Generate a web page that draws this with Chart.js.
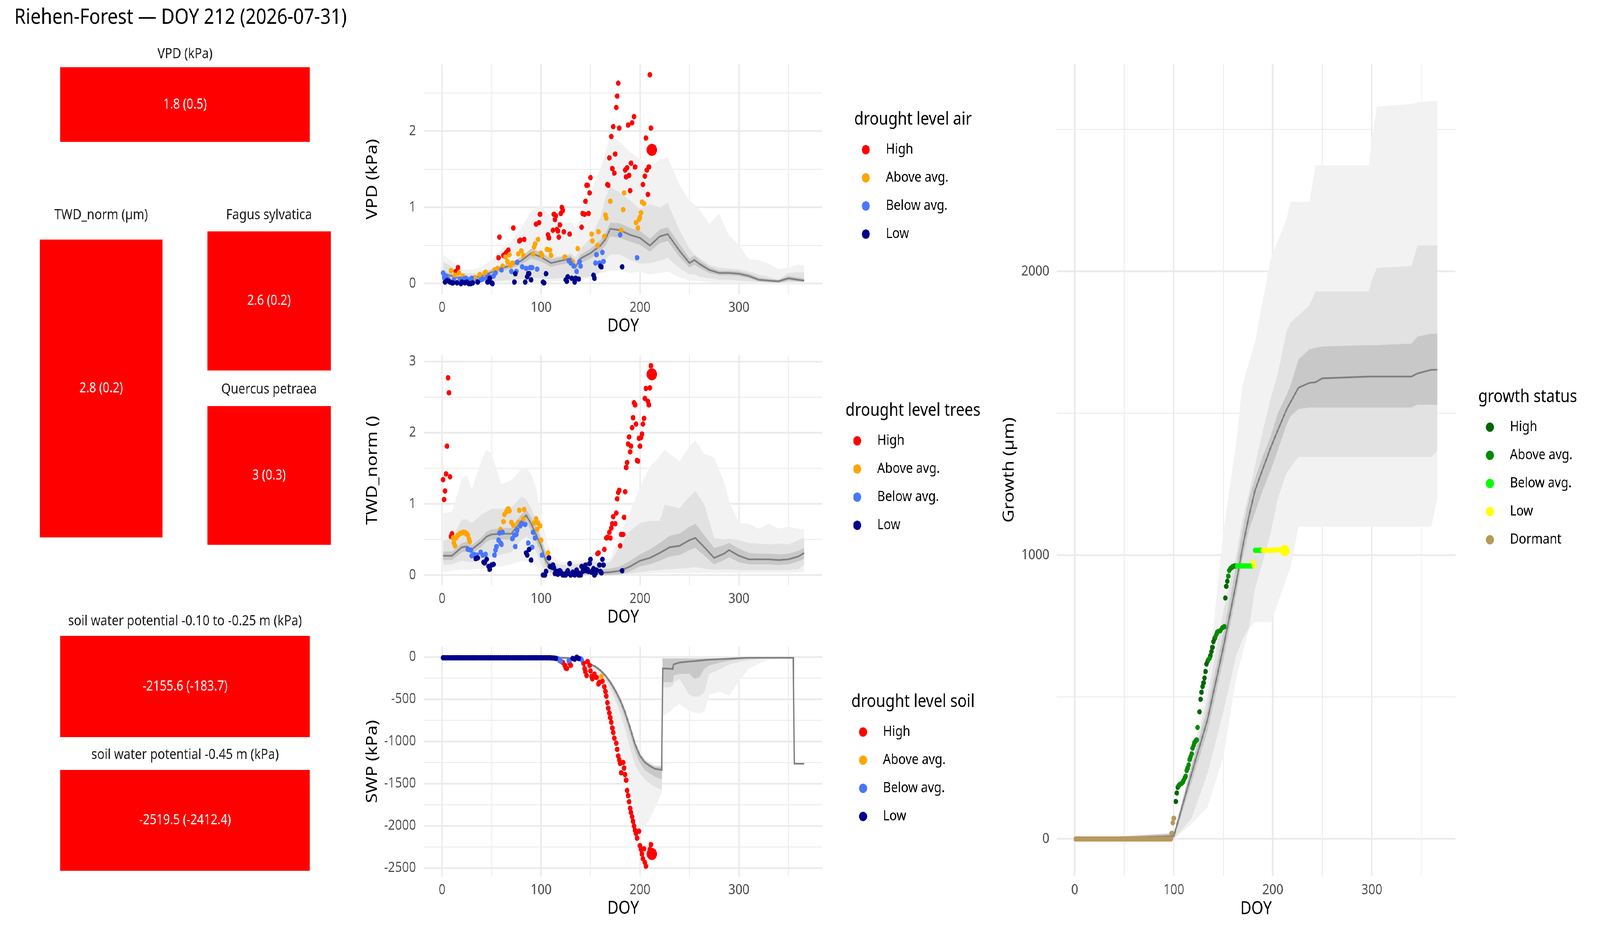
<!DOCTYPE html>
<html><head><meta charset="utf-8">
<script src="https://cdn.jsdelivr.net/npm/chart.js@4.4.1/dist/chart.umd.min.js"></script>
<style>
html,body{margin:0;padding:0;background:#fff;width:100%;height:100%;overflow:hidden;position:relative}
canvas{position:absolute;display:block}
</style></head><body>
<script>
// ================= DATA =================
const plotTitle = 'Riehen-Forest — DOY 212 (2026-07-31)';
const levelNames = ['High', 'Above avg.', 'Below avg.', 'Low'];
const levelColors = ['#FF0000', '#FFA500', '#4876FF', '#00008B'];
const growthNames = ['High', 'Above avg.', 'Below avg.', 'Low', 'Dormant'];
const growthColors = ['#006400', '#008B00', '#00FF00', '#FFFF00', '#B8995B'];

const tileNames = ['VPD (kPa)', 'TWD_norm (µm)', 'Fagus sylvatica', 'Quercus petraea',
  'soil water potential -0.10 to -0.25 m (kPa)', 'soil water potential -0.45 m (kPa)'];
const tileNow = [1.8, 2.8, 2.6, 3, -2155.6, -2519.5];
const tileRef = [0.5, 0.2, 0.2, 0.3, -183.7, -2412.4];
const tileLevel = ['High', 'High', 'High', 'High', 'High', 'High'];

const doyTicks = [0, 50, 100, 150, 200, 250, 300, 350];
const doyTickLabels = ['0', '', '100', '', '200', '', '300', ''];
const vpdTicks = [0, 0.5, 1, 1.5, 2, 2.5];
const vpdTickLabels = ['0', '', '1', '', '2', ''];
const twdTicks = [0, 0.5, 1, 1.5, 2, 2.5, 3];
const twdTickLabels = ['0', '', '1', '', '2', '', '3'];
const swpTicks = [-2500, -2250, -2000, -1750, -1500, -1250, -1000, -750, -500, -250, 0];
const swpTickLabels = ['-2500', '', '-2000', '', '-1500', '', '-1000', '', '-500', '', '0'];
const growthTicks = [0, 500, 1000, 1500, 2000, 2500];
const growthTickLabels = ['0', '', '1000', '', '2000', ''];

// ---- VPD (kPa) ----
const vpdHigh = [[14,0.16],[16,0.21],[57,0.34],[58,0.61],[62,0.37],[63,0.38],[65,0.41],[67,0.44],[72,0.73],[78,0.56],[79,0.57],[83,0.58],[95,0.78],[98,0.80],[99,0.91],[107,0.64],[108,0.60],[112,0.70],[113,0.91],[114,0.84],[115,0.89],[116,0.71],[117,0.69],[118,0.61],[119,0.77],[120,0.92],[121,1.0],[122,0.96],[123,0.68],[129,0.65],[141,0.74],[142,0.92],[144,0.91],[145,1.08],[146,1.29],[147,1.29],[148,0.92],[149,1.19],[150,1.39],[167,1.30],[168,1.29],[169,1.65],[171,1.93],[172,1.51],[173,2.06],[174,1.45],[175,1.70],[176,2.31],[177,2.46],[178,2.63],[179,2.04],[185,1.49],[186,1.40],[187,1.52],[188,2.08],[189,1.42],[190,1.22],[191,1.58],[192,2.11],[194,2.19],[195,1.53],[203,1.30],[205,1.41],[206,1.91],[207,1.49],[208,1.17],[209,1.53],[210,2.74],[211,2.04]];
const vpdAbove = [[9,0.17],[13,0.11],[17,0.14],[21,0.10],[33,0.08],[38,0.12],[43,0.14],[44,0.15],[53,0.18],[56,0.20],[61,0.23],[64,0.35],[66,0.29],[68,0.38],[69,0.24],[71,0.27],[77,0.39],[80,0.43],[82,0.37],[92,0.39],[93,0.48],[94,0.52],[97,0.58],[100,0.40],[101,0.37],[106,0.45],[109,0.44],[110,0.37],[124,0.35],[132,0.29],[137,0.46],[151,0.65],[152,0.56],[157,0.50],[158,0.68],[164,0.62],[165,0.90],[166,0.86],[170,1.08],[181,0.70],[183,0.97],[184,1.19],[196,0.80],[198,0.73],[199,0.84],[200,0.87],[201,0.93],[202,1.07],[204,1.05]];
const vpdBelow = [[1,0.14],[2,0.08],[4,0.10],[6,0.06],[12,0.05],[18,0.06],[22,0.06],[24,0.07],[26,0.05],[28,0.04],[30,0.07],[35,0.03],[39,0.05],[41,0.06],[45,0.08],[47,0.10],[49,0.08],[52,0.10],[54,0.14],[60,0.18],[70,0.16],[75,0.16],[76,0.28],[81,0.22],[85,0.20],[89,0.21],[91,0.21],[96,0.19],[128,0.30],[130,0.27],[133,0.23],[136,0.16],[139,0.29],[140,0.23],[155,0.27],[156,0.38],[159,0.27],[162,0.41],[163,0.29],[180,0.64],[197,0.34]];
const vpdLow = [[3,0.02],[5,0.04],[7,0.03],[8,0.02],[10,0.01],[11,0.01],[15,0.01],[19,0.0],[20,0.02],[23,0.01],[25,0.02],[27,0.0],[29,0.0],[31,0.01],[36,0.02],[46,0.02],[48,0.07],[50,0.01],[51,0.0],[73,0.02],[74,0.13],[84,0.02],[86,0.09],[87,0.13],[88,0.13],[90,0.05],[102,0.02],[103,0.01],[105,0.13],[125,0.05],[126,0.03],[127,0.09],[131,0.07],[134,0.02],[135,0.07],[138,0.06],[153,0.11],[154,0.07],[160,0.23],[161,0.22],[182,0.22]];
const vpdToday = [[212,1.755]];
const vpdTodayLevel = 'High';
const vpdBandDoy = [1,10,20,30,40,50,60,70,80,90,100,110,120,130,135,140,150,160,165,170,180,190,200,210,220,228,240,250,255,260,270,280,290,300,310,320,330,340,350,360,366];
const vpdMedian = [0.13,0.10,0.06,0.07,0.10,0.15,0.20,0.24,0.30,0.40,0.35,0.27,0.30,0.33,0.22,0.33,0.40,0.50,0.58,0.72,0.70,0.64,0.60,0.50,0.62,0.65,0.43,0.27,0.31,0.26,0.18,0.14,0.14,0.13,0.10,0.05,0.04,0.03,0.07,0.05,0.04];
const vpdInnerHi = [0.16,0.13,0.09,0.10,0.13,0.19,0.24,0.28,0.35,0.46,0.41,0.32,0.35,0.37,0.27,0.38,0.46,0.57,0.66,0.80,0.79,0.73,0.69,0.59,0.71,0.74,0.52,0.33,0.37,0.31,0.22,0.17,0.17,0.16,0.13,0.08,0.06,0.05,0.10,0.08,0.07];
const vpdInnerLo = [0.10,0.07,0.04,0.05,0.07,0.11,0.16,0.20,0.25,0.33,0.29,0.22,0.25,0.27,0.17,0.27,0.33,0.42,0.50,0.62,0.60,0.55,0.51,0.42,0.53,0.56,0.35,0.21,0.25,0.21,0.14,0.11,0.11,0.10,0.07,0.03,0.02,0.01,0.04,0.03,0.02];
const vpdMidHi = [0.29,0.22,0.14,0.14,0.14,0.19,0.23,0.27,0.36,0.43,0.42,0.35,0.36,0.40,0.35,0.46,0.60,0.87,1.12,1.27,1.19,1.09,0.98,1.04,1.00,1.06,0.70,0.46,0.38,0.34,0.25,0.21,0.20,0.19,0.16,0.12,0.09,0.05,0.14,0.15,0.15];
const vpdMidLo = [0.05,0.04,0.02,0.02,0.02,0.03,0.04,0.05,0.06,0.07,0.07,0.06,0.07,0.07,0.06,0.08,0.09,0.15,0.31,0.38,0.38,0.31,0.26,0.27,0.30,0.34,0.20,0.12,0.12,0.09,0.07,0.05,0.05,0.04,0.03,0.02,0.01,0.01,0.02,0.02,0.02];
const vpdOuterHi = [0.38,0.29,0.19,0.18,0.22,0.31,0.46,0.56,0.73,0.95,1.04,0.85,0.79,0.81,0.73,0.85,1.19,1.51,1.73,1.95,1.85,1.73,1.63,1.53,1.63,1.66,1.29,1.09,1.04,0.97,0.78,0.92,0.63,0.51,0.32,0.31,0.26,0.19,0.21,0.25,0.24];
const vpdOuterLo = [0.03,0.02,0.01,0.0,0.0,0.01,0.02,0.02,0.03,0.03,0.03,0.03,0.03,0.03,0.03,0.04,0.08,0.14,0.15,0.17,0.17,0.14,0.16,0.12,0.14,0.16,0.08,0.04,0.04,0.03,0.02,0.01,0.01,0.01,0.01,0.0,0.0,0.0,0.0,0.0,0.0];

// ---- TWD_norm ----
const twdHigh = [[1,1.34],[2,1.06],[3,1.18],[4,1.42],[5,1.81],[6,2.77],[7,2.56],[8,1.38],[9,0.54],[10,0.58],[157,0.30],[158,0.31],[164,0.36],[166,0.52],[167,0.53],[169,0.60],[170,0.52],[171,0.66],[172,0.72],[173,0.82],[175,0.72],[176,0.87],[177,1.07],[178,1.16],[179,1.19],[180,0.41],[181,0.57],[183,0.57],[184,0.81],[185,1.17],[186,1.51],[187,1.58],[188,1.84],[189,1.94],[190,1.73],[191,1.81],[192,2.07],[193,2.21],[194,2.42],[195,2.39],[196,2.12],[197,1.61],[198,1.60],[199,1.92],[200,1.81],[201,1.93],[202,1.98],[203,2.12],[204,2.20],[205,2.48],[206,2.62],[208,2.44],[209,2.39],[210,2.63],[211,2.94]];
const twdAbove = [[11,0.52],[12,0.45],[13,0.41],[14,0.52],[15,0.54],[16,0.56],[17,0.57],[18,0.58],[19,0.59],[20,0.59],[21,0.60],[22,0.60],[23,0.60],[24,0.58],[25,0.58],[26,0.56],[27,0.51],[28,0.47],[59,0.64],[62,0.75],[63,0.85],[65,0.89],[66,0.92],[67,0.93],[68,0.90],[70,0.74],[72,0.70],[77,0.74],[78,0.91],[82,0.79],[83,0.92],[93,0.73],[95,0.79],[96,0.64],[97,0.73],[99,0.69],[100,0.49],[107,0.31]];
const twdBelow = [[26,0.36],[29,0.35],[30,0.27],[32,0.29],[35,0.28],[39,0.32],[41,0.28],[44,0.29],[53,0.28],[54,0.35],[55,0.40],[57,0.49],[58,0.59],[59,0.45],[60,0.43],[61,0.60],[71,0.51],[73,0.56],[74,0.40],[75,0.57],[76,0.63],[79,0.69],[80,0.72],[81,0.72],[84,0.71],[87,0.45],[91,0.39],[92,0.60],[94,0.52],[101,0.28]];
const twdLow = [[34,0.23],[36,0.24],[42,0.18],[43,0.17],[45,0.22],[47,0.12],[48,0.08],[50,0.14],[52,0.15],[85,0.31],[86,0.28],[88,0.36],[90,0.21],[102,0.0],[104,0.0],[105,0.05],[108,0.24],[109,0.12],[111,0.11],[112,0.14],[113,0.10],[114,0.02],[115,0.04],[116,0.05],[117,0.01],[118,0.03],[119,0.06],[120,0.04],[121,0.02],[122,0.0],[123,0.01],[124,0.0],[125,0.0],[126,0.03],[127,0.06],[128,0.02],[129,0.16],[130,0.0],[131,0.01],[132,0.04],[133,0.03],[134,0.0],[135,0.02],[136,0.07],[137,0.04],[138,0.0],[139,0.01],[140,0.0],[141,0.12],[142,0.05],[143,0.08],[144,0.10],[145,0.14],[146,0.06],[147,0.08],[148,0.05],[149,0.16],[150,0.22],[151,0.04],[152,0.06],[153,0.09],[154,0.0],[155,0.02],[156,0.07],[159,0.14],[160,0.05],[161,0.03],[162,0.22],[163,0.14],[182,0.06]];
const twdToday = [[212,2.82]];
const twdTodayLevel = 'High';
const twdBandDoy = [1,10,20,25,30,40,45,50,60,70,80,85,90,95,100,105,110,120,130,140,150,160,170,180,190,200,210,220,225,230,240,250,256,265,275,285,290,300,310,320,330,340,350,360,366];
const twdMedian = [0.27,0.27,0.39,0.40,0.36,0.47,0.54,0.57,0.58,0.58,0.76,0.84,0.72,0.57,0.41,0.20,0.10,0.03,0.02,0.03,0.04,0.03,0.04,0.06,0.12,0.20,0.24,0.31,0.35,0.39,0.41,0.49,0.52,0.39,0.24,0.30,0.35,0.27,0.22,0.22,0.22,0.21,0.22,0.26,0.31];
const twdInnerHi = [0.33,0.33,0.45,0.47,0.42,0.53,0.61,0.64,0.66,0.66,0.85,0.92,0.82,0.68,0.51,0.29,0.17,0.08,0.06,0.07,0.09,0.08,0.09,0.12,0.20,0.29,0.36,0.45,0.50,0.55,0.58,0.68,0.72,0.56,0.38,0.42,0.45,0.37,0.31,0.30,0.30,0.29,0.30,0.34,0.38];
const twdInnerLo = [0.21,0.21,0.32,0.33,0.30,0.40,0.47,0.50,0.50,0.50,0.67,0.75,0.62,0.47,0.31,0.12,0.04,0.0,0.0,0.0,0.0,0.0,0.0,0.01,0.05,0.12,0.15,0.20,0.23,0.26,0.28,0.35,0.38,0.27,0.15,0.21,0.25,0.18,0.15,0.15,0.15,0.14,0.15,0.19,0.23];
const twdMidHi = [0.48,0.52,0.78,0.78,0.73,0.85,0.89,0.93,0.93,0.95,1.10,1.06,0.94,0.78,0.54,0.33,0.20,0.14,0.15,0.16,0.20,0.18,0.18,0.41,0.62,0.73,0.76,0.76,0.99,0.97,0.94,1.10,1.18,0.99,0.52,0.50,0.51,0.49,0.45,0.44,0.43,0.44,0.43,0.49,0.52];
const twdMidLo = [0.14,0.15,0.20,0.19,0.18,0.22,0.24,0.26,0.29,0.32,0.49,0.54,0.49,0.33,0.15,0.04,0.02,0.0,0.0,0.0,0.0,0.0,0.0,0.0,0.02,0.04,0.06,0.07,0.08,0.08,0.09,0.10,0.11,0.09,0.07,0.08,0.08,0.07,0.07,0.07,0.07,0.07,0.07,0.08,0.15];
const twdOuterHi = [0.87,0.89,1.36,1.40,1.20,1.62,1.76,1.70,1.28,1.33,1.49,1.52,1.41,1.23,0.83,0.52,0.29,0.18,0.18,0.20,0.23,0.22,0.23,0.57,0.89,1.23,1.52,1.67,1.76,1.70,1.60,1.81,1.89,1.70,1.65,1.31,1.04,0.73,0.72,0.65,0.72,0.65,0.68,0.65,0.64];
const twdOuterLo = [0.04,0.06,0.08,0.08,0.08,0.09,0.10,0.11,0.12,0.15,0.20,0.19,0.18,0.12,0.07,0.02,0.0,0.0,0.0,0.0,0.0,0.0,0.0,0.0,0.0,0.02,0.02,0.03,0.03,0.03,0.03,0.03,0.03,0.03,0.03,0.03,0.03,0.03,0.03,0.03,0.03,0.03,0.03,0.04,0.04];

// ---- SWP (kPa) ----
const swpHigh = [[122,-66],[124,-100],[125,-133],[126,-137],[129,-77],[130,-100],[143,-77],[144,-138],[145,-177],[146,-221],[147,-55],[149,-100],[150,-166],[151,-232],[152,-260],[154,-203],[156,-243],[158,-321],[159,-299],[162,-288],[164,-354],[165,-409],[166,-465],[167,-542],[168,-608],[169,-664],[170,-719],[171,-774],[172,-841],[173,-896],[174,-962],[176,-1022],[177,-1095],[178,-1173],[179,-1217],[180,-1261],[181,-1372],[183,-1250],[184,-1316],[185,-1394],[186,-1460],[187,-1582],[188,-1642],[189,-1715],[190,-1792],[191,-1843],[192,-1892],[193,-1947],[194,-2002],[195,-2053],[196,-2091],[197,-2146],[199,-2064],[200,-2235],[201,-2279],[202,-2334],[203,-2389],[204,-2272],[205,-2434],[206,-2478],[210,-2279],[211,-2223]];
const swpAbove = [[161,-232]];
const swpBelow = [[117,-22],[118,-30],[119,-44],[120,-52],[128,-44],[140,-22],[141,-33]];
const swpLow = [[1,-10],[3,-10],[5,-10],[7,-10],[9,-10],[11,-10],[13,-10],[15,-10],[17,-10],[19,-10],[21,-10],[23,-10],[25,-10],[27,-10],[29,-10],[31,-10],[33,-10],[35,-10],[37,-10],[39,-10],[41,-10],[43,-10],[45,-10],[47,-10],[49,-10],[51,-10],[53,-10],[55,-10],[57,-10],[59,-10],[61,-10],[63,-10],[65,-10],[67,-10],[69,-10],[71,-10],[73,-10],[75,-10],[77,-10],[79,-10],[81,-10],[83,-10],[85,-10],[87,-10],[89,-10],[91,-10],[93,-10],[95,-10],[97,-10],[99,-10],[101,-10],[103,-10],[105,-10],[107,-10],[109,-10],[111,-12],[113,-14],[115,-17],[132,-18],[134,-27],[136,-4],[138,-18]];
const swpToday = [[212,-2334]];
const swpTodayLevel = 'High';
const swpBandDoy = [1,100,110,120,130,140,150,155,160,165,170,175,180,185,190,195,200,205,210,215,222,223,230,233,234,240,250,255,260,265,270,280,290,300,310,320,330,340,355,356,366];
const swpMedian = [-3,-4,-5,-10,-15,-44,-88,-115,-160,-220,-299,-398,-510,-660,-840,-1035,-1173,-1250,-1292,-1325,-1338,-137,-140,-144,-88,-66,-55,-50,-44,-38,-33,-27,-22,-15,-11,-11,-11,-11,-11,-1265,-1265];
const swpInnerHi = [-2,-3,-4,-8,-12,-38,-80,-105,-150,-205,-280,-375,-490,-630,-810,-1000,-1145,-1225,-1270,-1300,-1305,-20,-20,-20,-20,-20,-20,-20,-20,-20,-20,-18,-16,-14,-11,-11,-11,-11,-11,null,null];
const swpInnerLo = [-4,-5,-6,-12,-18,-50,-98,-128,-178,-245,-330,-440,-570,-730,-920,-1120,-1260,-1340,-1380,-1420,-1450,-300,-300,-300,-220,-200,-200,-260,-240,-140,-100,-70,-45,-30,-20,-15,-12,-11,-11,null,null];
const swpMidHi = [-1,-2,-3,-6,-10,-35,-76,-100,-145,-200,-272,-365,-480,-620,-800,-990,-1130,-1215,-1260,-1290,-1295,-17,-17,-17,-17,-17,-17,-17,-17,-17,-17,-16,-15,-13,-11,-11,-11,-11,-11,null,null];
const swpMidLo = [-5,-6,-8,-15,-22,-60,-110,-145,-200,-280,-380,-510,-670,-860,-1080,-1280,-1380,-1450,-1500,-1540,-1575,-360,-360,-340,-300,-260,-450,-470,-470,-420,-200,-150,-90,-60,-40,-25,-15,-11,-11,null,null];
const swpOuterHi = [0,-1,-2,-5,-8,-30,-72,-95,-140,-195,-265,-355,-470,-610,-790,-980,-1115,-1205,-1250,-1280,-1285,-15,-15,-15,-15,-15,-15,-15,-15,-15,-15,-14,-13,-12,-11,-11,-11,-11,-11,null,null];
const swpOuterLo = [-6,-8,-10,-20,-28,-70,-125,-170,-250,-420,-620,-800,-1030,-1230,-1500,-1780,-2035,-2000,-1920,-1790,-1610,-700,-650,-620,-600,-560,-640,-660,-670,-650,-450,-410,-460,-290,-140,-80,-30,-15,-11,null,null];

// ---- Growth (µm) ----
const growthHigh = [[102,132],[103,162],[104,182],[126,448],[127,492],[128,517],[129,537],[130,550],[131,567],[132,590],[133,616],[134,626],[137,646],[138,660],[139,675],[140,695],[141,705],[152,849],[153,890],[154,908]];
const growthAbove = [[105,188],[106,192],[107,194],[108,196],[109,200],[110,207],[111,215],[112,221],[113,241],[114,250],[115,261],[116,280],[117,290],[118,300],[119,320],[120,330],[121,340],[122,345],[123,349],[124,393],[135,632],[136,636],[142,712],[143,721],[144,729],[145,731],[147,734],[149,744],[151,748],[155,926],[156,946],[157,952],[158,955],[159,958],[160,960],[161,962],[162,962],[163,962]];
const growthBelow = [[164,962],[165,962],[166,962],[167,962],[168,962],[169,962],[170,962],[171,962],[172,962],[173,962],[174,962],[175,962],[176,962],[177,962],[178,962],[179,962],[182,1017],[183,1017],[184,1017],[185,1017],[186,1017],[187,1017],[188,1017],[189,1017]];
const growthLow = [[180,975],[181,962],[190,1017],[191,1017],[192,1017],[193,1017],[194,1017],[195,1017],[196,1017],[197,1017],[198,1017],[199,1017],[200,1017],[201,1018],[202,1018],[203,1018],[204,1018],[205,1018],[206,1019],[207,1019],[208,1019],[209,1020],[210,1020],[211,1020]];
const growthDormant = [[1,0],[3,0],[5,0],[7,0],[9,0],[11,0],[13,0],[15,0],[17,0],[19,0],[21,0],[23,0],[25,0],[27,0],[29,0],[31,0],[33,0],[35,0],[37,0],[39,0],[41,0],[43,0],[45,0],[47,0],[49,0],[51,0],[53,0],[55,0],[57,0],[59,0],[61,0],[63,0],[65,0],[67,0],[69,0],[71,0],[73,0],[75,0],[77,0],[79,0],[81,0],[83,0],[85,0],[87,0],[89,0],[91,0],[93,0],[95,0],[97,0],[98,20],[99,57],[100,73]];
const growthToday = [[212,1016]];
const growthTodayLevel = 'Low';
const growthBandDoy = [1,100,118,134,150,163,169,176,182,190,198,205,214,218,226,237,243,250,297,300,305,340,346,360,366];
const growthMedian = [0,10,231,420,675,902,1020,1139,1228,1305,1380,1440,1514,1540,1590,1607,1609,1623,1629,1629,1629,1629,1640,1653,1653];
const growthInnerLo = [0,0,200,380,630,860,980,1090,1150,1230,1300,1370,1460,1490,1515,1520,1520,1520,1520,1520,1520,1520,1530,1530,1530];
const growthInnerHi = [0,20,260,460,725,960,1080,1200,1270,1350,1420,1500,1565,1600,1690,1725,1730,1735,1740,1740,1740,1745,1770,1780,1780];
const growthMidLo = [0,0,73,231,448,646,700,744,882,980,1080,1200,1290,1310,1346,1346,1346,1346,1346,1346,1346,1346,1346,1346,1366];
const growthMidHi = [0,14,260,500,800,1000,1120,1220,1317,1440,1554,1640,1790,1820,1845,1880,1929,1929,1929,1970,2012,2018,2091,2091,2091];
const growthOuterLo = [0,0,53,112,290,567,650,740,764,764,764,830,922,960,1100,1100,1100,1100,1100,1100,1100,1100,1100,1100,1198];
const growthOuterHi = [0,14,270,547,1080,1396,1593,1680,1751,1900,2047,2107,2186,2245,2245,2245,2373,2373,2373,2462,2580,2590,2595,2600,2600];

// ================= LAYOUT & STYLE =================
const DESIGN_W = 4800, DESIGN_H = 2400;
const FONT = '"Noto Sans", "Open Sans", sans-serif';
Chart.defaults.font.family = FONT;
const BAND_COLORS = { outer: '#F2F2F2', mid: '#E2E2E2', inner: '#C8C8C8', median: '#7F7F7F' };
const tileLayout = [
  { x0: 181, x1: 929, y0: 172, y1: 363, ty: 139 },
  { x0: 119, x1: 488, y0: 613, y1: 1375, ty: 551 },
  { x0: 622, x1: 992, y0: 592, y1: 948, ty: 551 },
  { x0: 622, x1: 992, y0: 1039, y1: 1394, ty: 997 },
  { x0: 181, x1: 929, y0: 1627, y1: 1886, ty: 1590 },
  { x0: 181, x1: 929, y0: 1970, y1: 2228, ty: 1932 }
];

// map the 4800x2400 design onto the full viewport the browser actually reports
const VW = window.innerWidth || DESIGN_W, VH = window.innerHeight || DESIGN_H;
const SX = VW / DESIGN_W, SY = VH / DESIGN_H;
const DPR = window.devicePixelRatio || 1;
const RATIO = Math.max(SX, SY) * DPR;
const root = document.createElement('div');
root.style.cssText = 'position:absolute;left:0;top:0;width:' + DESIGN_W + 'px;height:' + DESIGN_H +
  'px;transform-origin:0 0;transform:scale(' + SX + ',' + SY + ');background:#fff';
document.body.appendChild(root);

const toXY = arr => arr.map(p => ({ x: p[0], y: p[1] }));
const bandPts = (doy, vals) => doy.map((d, i) => (vals[i] == null ? null : { x: d, y: vals[i] })).filter(p => p);
const colorOf = (names, colors, lvl) => colors[names.indexOf(lvl)];

function makeCanvas(left, top, w, h) {
  const c = document.createElement('canvas');
  c.width = Math.round(w); c.height = Math.round(h);
  c.style.left = left + 'px'; c.style.top = top + 'px';
  c.style.width = Math.round(w) + 'px'; c.style.height = Math.round(h) + 'px';
  root.appendChild(c);
  return c;
}

const ggLegend = {
  id: 'ggLegend',
  afterDraw(chart, args, o) {
    if (!o || !o.title) return;
    const ctx = chart.ctx, a = chart.chartArea;
    const cx = a.right + o.dx, base = (a.top + a.bottom) / 2 + o.dy;
    ctx.save();
    ctx.font = '45.8px ' + FONT;
    const left = cx - ctx.measureText(o.title).width / 2;
    ctx.fillStyle = '#000'; ctx.textAlign = 'left'; ctx.textBaseline = 'alphabetic';
    ctx.fillText(o.title, left, base);
    ctx.font = '36.7px ' + FONT; ctx.textBaseline = 'middle';
    o.labels.forEach((lab, i) => {
      const y = base + 64.5 + i * 72;
      ctx.beginPath(); ctx.arc(left + 35, y, 12, 0, Math.PI * 2);
      ctx.fillStyle = o.colors[i]; ctx.fill();
      ctx.fillStyle = '#000'; ctx.fillText(lab, left + 95, y);
    });
    ctx.restore();
  }
};

function axisCfg(c, which) {
  const isX = which === 'x';
  const ticks = isX ? doyTicks : c.yTicks;
  const labels = isX ? doyTickLabels : c.yLabels;
  return {
    type: 'linear',
    min: isX ? c.xMin : c.yMin,
    max: isX ? c.xMax : c.yMax,
    afterBuildTicks: s => { s.ticks = ticks.map(v => ({ value: v })); },
    afterFit: s => {
      if (isX) s.height = c.xAxisH; else s.width = c.yAxisW;
      s.paddingLeft = 0; s.paddingRight = 0; s.paddingTop = 0; s.paddingBottom = 0;
    },
    ticks: {
      autoSkip: false, maxRotation: 0, minRotation: 0,
      padding: isX ? c.xTickPad : c.yTickPad,
      color: '#4D4D4D', font: { size: 36.7 },
      callback: (v, i) => labels[i]
    },
    grid: {
      color: '#EBEBEB', drawTicks: false,
      lineWidth: ctx => (ctx.tick && labels[ctx.index] !== '' ? 4.4 : 2.2)
    },
    border: { display: false },
    title: {
      display: true, text: isX ? 'DOY' : c.yTitle, color: '#000', font: { size: 45.8 },
      padding: isX ? { top: 0, bottom: c.xTitlePad } : { top: c.yTitlePad, bottom: 0 }
    }
  };
}

function panel(c) {
  const cv = makeCanvas(c.left, c.top, c.w, c.h);
  const ds = [];
  const b = c.band;
  const addBand = (lo, hi, color, order) => {
    const li = ds.length;
    ds.push({ data: bandPts(b.doy, lo), borderColor: 'rgba(0,0,0,0)', borderWidth: 0, pointRadius: 0, fill: false, order });
    ds.push({ data: bandPts(b.doy, hi), borderColor: 'rgba(0,0,0,0)', borderWidth: 0, pointRadius: 0, fill: { target: li }, backgroundColor: color, order });
  };
  addBand(b.outerLo, b.outerHi, BAND_COLORS.outer, 40);
  addBand(b.midLo, b.midHi, BAND_COLORS.mid, 30);
  addBand(b.innerLo, b.innerHi, BAND_COLORS.inner, 20);
  ds.push({ data: bandPts(b.doy, b.median), borderColor: BAND_COLORS.median, borderWidth: 4.4, pointRadius: 0, fill: false, order: 10 });
  c.groups.forEach((g, k) => ds.push({
    data: toXY(g.pts), showLine: false, pointRadius: c.r, pointBackgroundColor: g.color,
    pointBorderColor: g.color, pointBorderWidth: 0, order: 5 + k
  }));
  ds.push({ data: toXY(c.today.pts), showLine: false, pointRadius: c.rToday, pointBackgroundColor: c.today.color,
    pointBorderColor: c.today.color, pointBorderWidth: 0, order: 1 });

  new Chart(cv, {
    type: 'line',
    data: { datasets: ds },
    options: {
      responsive: false, animation: false, devicePixelRatio: RATIO, events: [],
      layout: { autoPadding: false, padding: { left: 0, top: c.padTop, right: c.padRight, bottom: 0 } },
      elements: { line: { tension: 0 } },
      plugins: { legend: { display: false }, tooltip: { enabled: false }, ggLegend: c.legend },
      scales: { x: axisCfg(c, 'x'), y: axisCfg(c, 'y') }
    },
    plugins: [ggLegend]
  });
}

function tile(i) {
  const L = tileLayout[i];
  const top = L.ty - 22;
  const cv = makeCanvas(L.x0, top, L.x1 - L.x0, L.y1 - top);
  const valuePlugin = {
    id: 'tileValue',
    afterDatasetsDraw(chart) {
      const el = chart.getDatasetMeta(0).data[0];
      if (!el) return;
      const ctx = chart.ctx;
      ctx.save();
      ctx.font = '35.5px ' + FONT; ctx.fillStyle = '#FFFFFF';
      ctx.textAlign = 'center'; ctx.textBaseline = 'middle';
      ctx.fillText(tileNow[i] + ' (' + tileRef[i] + ')', el.x, (el.y + el.base) / 2);
      ctx.restore();
    }
  };
  new Chart(cv, {
    type: 'bar',
    data: { labels: [tileNames[i]], datasets: [{
      data: [[0, 1]], backgroundColor: colorOf(levelNames, levelColors, tileLevel[i]),
      borderWidth: 0, barPercentage: 1, categoryPercentage: 1 }] },
    options: {
      responsive: false, animation: false, devicePixelRatio: RATIO, events: [],
      layout: { autoPadding: false, padding: 0 },
      scales: { x: { display: false }, y: { display: false, min: 0, max: 1 } },
      plugins: {
        legend: { display: false }, tooltip: { enabled: false },
        title: { display: true, text: tileNames[i], color: '#1A1A1A', font: { size: 36.7, weight: 'normal' },
          padding: { top: 0, bottom: L.y0 - (L.ty + 22) } }
      }
    },
    plugins: [valuePlugin]
  });
}

function titleChart() {
  const cv = makeCanvas(0, 0, 1050, 100);
  new Chart(cv, {
    type: 'bar',
    data: { labels: [], datasets: [] },
    options: {
      responsive: false, animation: false, devicePixelRatio: RATIO, events: [],
      layout: { autoPadding: false, padding: { left: 43, top: 0, right: 0, bottom: 0 } },
      scales: { x: { display: false }, y: { display: false } },
      plugins: {
        legend: { display: false }, tooltip: { enabled: false },
        title: { display: true, text: plotTitle, align: 'start', color: '#000', font: { size: 55, weight: 'normal' }, padding: { top: 12, bottom: 0 } }
      }
    }
  });
}

const X_RANGE = { xMin: -18.3, xMax: 384.3 };
const MID = { left: 1050, w: 1940, h: 730, padTop: 24, padRight: 523, yAxisW: 222, xAxisH: 117,
  yTitlePad: 40.5, yTickPad: 24, xTickPad: 13, xTitlePad: 7.5, r: 7, rToday: 15.5 };
const midLegend = title => ({ title, labels: levelNames, colors: levelColors, dx: 272, dy: -140 });

function start() {
  titleChart();
  for (let i = 0; i < tileNames.length; i++) tile(i);
  const lvlGroups = (h, a, b, l) => [
    { pts: l, color: levelColors[3] }, { pts: b, color: levelColors[2] },
    { pts: a, color: levelColors[1] }, { pts: h, color: levelColors[0] }
  ];
  panel(Object.assign({}, MID, X_RANGE, {
    top: 140, yMin: -0.14, yMax: 2.88, yTicks: vpdTicks, yLabels: vpdTickLabels, yTitle: 'VPD (kPa)',
    band: { doy: vpdBandDoy, median: vpdMedian, innerLo: vpdInnerLo, innerHi: vpdInnerHi, midLo: vpdMidLo, midHi: vpdMidHi, outerLo: vpdOuterLo, outerHi: vpdOuterHi },
    groups: lvlGroups(vpdHigh, vpdAbove, vpdBelow, vpdLow),
    today: { pts: vpdToday, color: colorOf(levelNames, levelColors, vpdTodayLevel) },
    legend: midLegend('drought level air')
  }));
  panel(Object.assign({}, MID, X_RANGE, {
    top: 885, yMin: -0.147, yMax: 3.087, yTicks: twdTicks, yLabels: twdTickLabels, yTitle: 'TWD_norm ()',
    band: { doy: twdBandDoy, median: twdMedian, innerLo: twdInnerLo, innerHi: twdInnerHi, midLo: twdMidLo, midHi: twdMidHi, outerLo: twdOuterLo, outerHi: twdOuterHi },
    groups: lvlGroups(twdHigh, twdAbove, twdBelow, twdLow),
    today: { pts: twdToday, color: colorOf(levelNames, levelColors, twdTodayLevel) },
    legend: midLegend('drought level trees')
  }));
  panel(Object.assign({}, MID, X_RANGE, {
    top: 1630, yMin: -2602, yMax: 124, yTicks: swpTicks, yLabels: swpTickLabels, yTitle: 'SWP (kPa)',
    band: { doy: swpBandDoy, median: swpMedian, innerLo: swpInnerLo, innerHi: swpInnerHi, midLo: swpMidLo, midHi: swpMidHi, outerLo: swpOuterLo, outerHi: swpOuterHi },
    groups: lvlGroups(swpHigh, swpAbove, swpBelow, swpLow),
    today: { pts: swpToday, color: colorOf(levelNames, levelColors, swpTodayLevel) },
    legend: midLegend('drought level soil')
  }));
  panel(Object.assign({}, X_RANGE, {
    left: 2990, top: 140, w: 1810, h: 2220, padTop: 24, padRight: 434, yAxisW: 180, xAxisH: 119,
    yTitlePad: 10.5, yTickPad: 22, xTickPad: 15, xTitlePad: 6.5, r: 6.8, rToday: 14.5,
    yMin: -130, yMax: 2730, yTicks: growthTicks, yLabels: growthTickLabels, yTitle: 'Growth (µm)',
    band: { doy: growthBandDoy, median: growthMedian, innerLo: growthInnerLo, innerHi: growthInnerHi, midLo: growthMidLo, midHi: growthMidHi, outerLo: growthOuterLo, outerHi: growthOuterHi },
    groups: [
      { pts: growthDormant, color: growthColors[4] }, { pts: growthLow, color: growthColors[3] },
      { pts: growthBelow, color: growthColors[2] }, { pts: growthAbove, color: growthColors[1] },
      { pts: growthHigh, color: growthColors[0] }
    ],
    today: { pts: growthToday, color: colorOf(growthNames, growthColors, growthTodayLevel) },
    legend: { title: 'growth status', labels: growthNames, colors: growthColors, dx: 217, dy: -174 }
  }));
}
start();
</script>
</body></html>
